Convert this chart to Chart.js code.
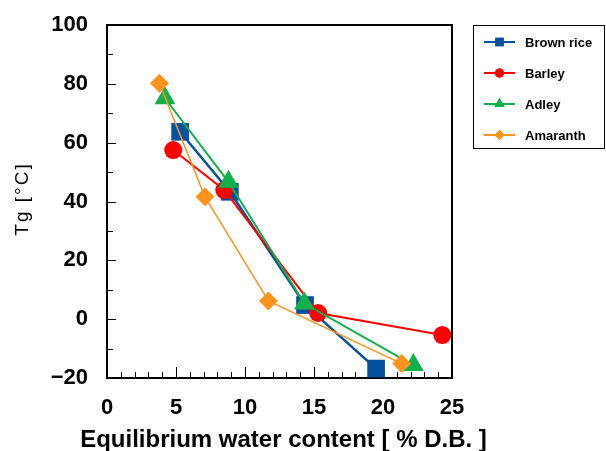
<!DOCTYPE html>
<html>
<head>
<meta charset="utf-8">
<script src="https://cdn.jsdelivr.net/npm/chart.js@4"></script>
<style>
  html, body { margin: 0; padding: 0; background: #fff; }
</style>
</head>
<body>
<canvas id="chart" width="606" height="451"></canvas>
<script>
// Series
const seriesNames  = ['Brown rice', 'Barley', 'Adley', 'Amaranth'];
const brownRiceX   = [5.3, 8.9, 14.35, 19.5];
const brownRiceY   = [63.7, 43.3, 4.8, -16.8];
const barleyX      = [4.8, 8.5, 15.3, 24.3];
const barleyY      = [57.5, 43.9, 2.1, -5.4];
const adleyX       = [4.2, 8.8, 14.3, 22.2];
const adleyY       = [75.1, 46.7, 5.3, -15.6];
const amaranthX    = [3.8, 7.1, 11.7, 21.35];
const amaranthY    = [80.2, 41.6, 6.2, -15.1];
const xTicks       = [0, 5, 10, 15, 20, 25];
const yTicks       = [-20, 0, 20, 40, 60, 80, 100];
const xTitle       = 'Equilibrium water content [ % D.B. ]';
const yTitle       = 'Tg [°C]';

const FONT = "'Liberation Sans', Arial, sans-serif";

function pts(xs, ys) { return xs.map((x, i) => ({ x, y: ys[i] })); }

const frameTicks = {
  id: 'frameTicks',
  beforeDatasetsDraw(chart) {
    const { ctx, chartArea: a, scales: { x, y } } = chart;
    ctx.save();
    ctx.strokeStyle = '#000';
    ctx.lineWidth = 1;
    ctx.beginPath();
    for (let v = 0; v <= 25; v++) {
      const px = Math.round(x.getPixelForValue(v)) + 0.5;
      const len = v % 5 === 0 ? 11 : 6;
      ctx.moveTo(px, a.bottom); ctx.lineTo(px, a.bottom - len);
    }
    for (let v = -20; v <= 100; v += 10) {
      const py = Math.round(y.getPixelForValue(v)) + 0.5;
      const len = v % 20 === 0 ? 9 : 6;
      ctx.moveTo(a.left, py); ctx.lineTo(a.left + len, py);
    }
    ctx.stroke();
    ctx.lineWidth = 2;
    ctx.strokeRect(a.left, a.top, a.right - a.left, a.bottom - a.top);
    ctx.restore();
  },
  afterDraw(chart) {
    const { ctx, chartArea: a } = chart;
    ctx.save();
    // axis titles (drawn here so they are not squeezed to the plot width)
    ctx.fillStyle = '#000';
    ctx.textAlign = 'center';
    ctx.textBaseline = 'alphabetic';
    ctx.font = "bold 24px " + FONT;
    ctx.fillText(xTitle, (a.left + a.right) / 2 + 4, 447);
    ctx.save();
    ctx.translate(28, 199);
    ctx.rotate(-Math.PI / 2);
    ctx.font = "19px " + FONT;
    ctx.letterSpacing = '2px';
    ctx.fillText(yTitle, 0, 0);
    ctx.restore();

    // legend box drawn from the datasets' own styles
    const bx = 473, by = 25, bw = 131, bh = 123;
    ctx.fillStyle = '#fff';
    ctx.fillRect(bx, by, bw, bh);
    ctx.strokeStyle = '#000';
    ctx.lineWidth = 1;
    ctx.strokeRect(bx + 0.5, by + 0.5, bw, bh);
    ctx.font = "bold 13px " + FONT;
    ctx.textAlign = 'left';
    ctx.textBaseline = 'middle';
    chart.data.datasets.forEach((ds, i) => {
      const cy = by + 17 + i * 31;
      ctx.strokeStyle = ds.borderColor;
      ctx.lineWidth = 2;
      ctx.beginPath();
      ctx.moveTo(484, cy); ctx.lineTo(515, cy);
      ctx.stroke();
      ctx.fillStyle = ds.backgroundColor;
      Chart.helpers.drawPoint(ctx, { pointStyle: ds.pointStyle, radius: ds.legendRadius, rotation: 0, borderWidth: 0 }, 499.5, cy);
      ctx.fill();
      ctx.fillStyle = '#000';
      ctx.fillText(ds.label, 525, cy + 1);
    });
    ctx.restore();
  }
};

const colors = ['#0650a0', '#ff0000', '#10b04a', '#ff931e'];

new Chart(document.getElementById('chart'), {
  type: 'scatter',
  data: {
    datasets: [
      { label: seriesNames[0], data: pts(brownRiceX, brownRiceY), pointStyle: 'rect', pointRadius: 12.5, legendRadius: 6, borderWidth: 2.5, order: 3 },
      { label: seriesNames[1], data: pts(barleyX, barleyY), pointStyle: 'circle', pointRadius: 9, legendRadius: 4.5, borderWidth: 2, order: 2 },
      { label: seriesNames[2], data: pts(adleyX, adleyY), pointStyle: 'triangle', pointRadius: 12, legendRadius: 6, borderWidth: 2, order: 1 },
      { label: seriesNames[3], data: pts(amaranthX, amaranthY), pointStyle: 'rectRot', pointRadius: 9.5, legendRadius: 5, borderWidth: 1.5, order: 0 }
    ].map((d, i) => Object.assign(d, {
      showLine: true,
      borderColor: colors[i],
      backgroundColor: colors[i],
      pointBackgroundColor: colors[i],
      pointBorderWidth: 0,
      pointHoverRadius: d.pointRadius,
      clip: false
    }))
  },
  options: {
    responsive: false,
    animation: false,
    layout: { padding: { top: 25, right: 154, left: 0, bottom: 0 } },
    plugins: { legend: { display: false }, tooltip: { enabled: false } },
    scales: {
      x: {
        type: 'linear', min: 0, max: 25,
        afterBuildTicks: s => { s.ticks = xTicks.map(v => ({ value: v })); },
        afterFit: s => { s.height = 73; },
        grid: { display: false, drawTicks: false },
        border: { display: false },
        ticks: { padding: 17, color: '#000', font: { family: FONT, size: 22, weight: 'bold' } }
      },
      y: {
        type: 'linear', min: -20, max: 100,
        afterBuildTicks: s => { s.ticks = yTicks.map(v => ({ value: v })); },
        afterFit: s => { s.width = 107; s.paddingTop = 0; s.paddingBottom = 0; },
        grid: { display: false, drawTicks: false },
        border: { display: false },
        ticks: {
          padding: 19, color: '#000', font: { family: FONT, size: 22, weight: 'bold' },
          callback: v => (v < 0 ? '\u2212' + Math.abs(v) : String(v))
        }
      }
    }
  },
  plugins: [frameTicks]
});
</script>
</body>
</html>
